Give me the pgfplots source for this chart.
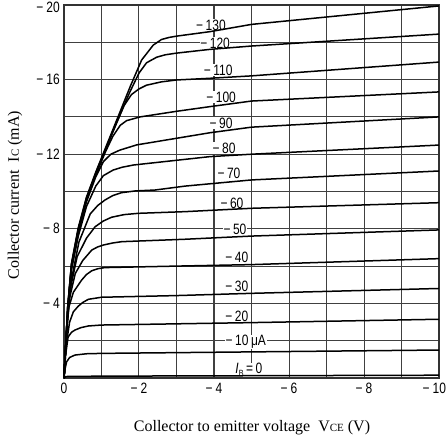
\documentclass[border=0pt]{standalone}
\usepackage{fontspec}
\setmainfont{Liberation Serif}
\newfontfamily\tfont[FakeStretch=0.8]{Liberation Sans}
\usepackage{pgfplots}
\pgfplotsset{compat=1.18}
\newcommand{\tk}{\tfont\fontsize{15}{15}\selectfont}
\newcommand{\lb}[1]{{\tk −\hspace{3pt}#1}}
\begin{document}
\begin{tikzpicture}
\useasboundingbox (0,0) rectangle (446pt,441pt);
\begin{axis}[
  at={(64pt,63pt)}, anchor=south west,
  width=375pt, height=373pt, scale only axis,
  xmin=-10, xmax=0, ymin=-20, ymax=0,
  x dir=reverse, y dir=reverse,
  xtick={0,-2,-4,-6,-8,-10},
  xticklabels={{\tk 0},\lb{2},\lb{4},\lb{6},\lb{8},{\makebox[14pt][r]{\lb{10}}}},
  minor xtick={-1,-3,-5,-7,-9},
  ytick={-4,-8,-12,-16,-20},
  yticklabels={\lb{4},\lb{8},\lb{12},\lb{16},{\lb{20}\rule{0pt}{15pt}}},
  minor ytick={-2,-6,-10,-14,-18},
  grid=both,
  major tick length=0pt, minor tick length=0pt,
  major grid style={black!75, line width=1pt},
  minor grid style={black!75, line width=1pt},
  axis line style={black!80, line width=1.2pt},
  xticklabel style={inner sep=0pt, yshift=-5pt},
  yticklabel style={inner sep=0pt, xshift=-4pt},
  clip=false,
]
% curve labels (drawn before curves)
\tikzset{cl/.style={fill=white, inner sep=0.6pt, font=\tk}}
\node[cl] at (axis cs:-3.92,-18.93) {−\hspace{2.5pt}130};
\node[cl] at (axis cs:-4.03,-17.96) {−\hspace{2.5pt}120};
\node[cl] at (axis cs:-4.11,-16.51) {−\hspace{2.5pt}110};
\node[cl] at (axis cs:-4.19,-15.07) {−\hspace{2.5pt}100};
\node[cl] at (axis cs:-4.19,-13.67) {−\hspace{2.5pt}90};
\node[cl] at (axis cs:-4.27,-12.33) {−\hspace{2.5pt}80};
\node[cl] at (axis cs:-4.40,-10.99) {−\hspace{2.5pt}70};
\node[cl] at (axis cs:-4.48,-9.38) {−\hspace{2.5pt}60};
\node[cl] at (axis cs:-4.56,-7.99) {−\hspace{2.5pt}50};
\node[cl] at (axis cs:-4.61,-6.49) {−\hspace{2.5pt}40};
\node[cl] at (axis cs:-4.61,-4.93) {−\hspace{2.5pt}30};
\node[cl] at (axis cs:-4.61,-3.32) {−\hspace{2.5pt}20};
\node[cl] at (axis cs:-4.85,-1.93) {−\hspace{2.5pt}10\,μA};
\node[cl] at (axis cs:-4.93,-0.43) {\textit{I}\raisebox{-0.35ex}{\fontsize{9}{9}\selectfont B}\,=\,0};
\pgfplotsset{cv/.style={black, solid, line width=1.5pt, mark=none, line join=round}}
% IB = 0
\addplot[cv] coordinates {(0,0) (-0.05,-0.08) (-1,-0.1) (-10,-0.15)};
% IB = 10
\addplot[cv] coordinates {(0,0) (-0.03,-0.5) (-0.07,-0.87) (-0.15,-1.1) (-0.29,-1.23) (-0.6,-1.3) (-1,-1.32) (-5,-1.4) (-10,-1.5)};
% IB = 20
\addplot[cv] coordinates {(0,0) (-0.04,-1.2) (-0.11,-2.2) (-0.2,-2.45) (-0.29,-2.57) (-0.45,-2.7) (-0.65,-2.79) (-1,-2.84) (-5,-2.97) (-10,-3.15)};
% IB = 30
\addplot[cv] coordinates {(0,0) (-0.06,-1.8) (-0.15,-3.0) (-0.25,-3.55) (-0.38,-3.85) (-0.5,-4.05) (-0.65,-4.22) (-1,-4.33) (-3,-4.42) (-5,-4.54) (-10,-4.8)};
% IB = 40
\addplot[cv] coordinates {(0,0) (-0.06,-2.2) (-0.13,-3.8) (-0.25,-4.6) (-0.47,-5.25) (-0.6,-5.55) (-0.74,-5.75) (-0.9,-5.86) (-1.09,-5.92) (-3,-6.0) (-5,-6.08) (-10,-6.4)};
% IB = 50
\addplot[cv] coordinates {(0,0) (-0.07,-2.6) (-0.15,-4.3) (-0.3,-5.6) (-0.5,-6.3) (-0.74,-6.86) (-0.9,-7.03) (-1.05,-7.13) (-1.3,-7.24) (-1.54,-7.31) (-3.23,-7.44) (-5,-7.61) (-10,-7.94)};
% IB = 60
\addplot[cv] coordinates {(0,0) (-0.08,-3.0) (-0.17,-4.8) (-0.35,-6.5) (-0.6,-7.5) (-0.83,-8.11) (-1.05,-8.42) (-1.27,-8.62) (-1.6,-8.76) (-1.98,-8.83) (-3.23,-8.92) (-5,-9.1) (-10,-9.4)};
% IB = 70
\addplot[cv] coordinates {(0,0) (-0.09,-3.2) (-0.2,-5.3) (-0.4,-7.3) (-0.7,-8.8) (-0.9,-9.25) (-1.09,-9.54) (-1.3,-9.78) (-1.54,-9.94) (-1.9,-10.03) (-2.43,-10.08) (-3.23,-10.29) (-5,-10.62) (-10,-11.1)};
% IB = 80
\addplot[cv] coordinates {(0,0) (-0.1,-3.6) (-0.2,-5.8) (-0.38,-7.6) (-0.6,-9.2) (-0.85,-10.3) (-1.05,-10.85) (-1.31,-11.15) (-1.55,-11.3) (-1.85,-11.42) (-3.89,-11.87) (-5,-12.0) (-10,-12.49)};
% IB = 90
\addplot[cv] coordinates {(0,0) (-0.1,-3.7) (-0.2,-5.9) (-0.38,-7.8) (-0.6,-9.45) (-0.85,-10.8) (-1.05,-11.6) (-1.25,-12.0) (-1.49,-12.22) (-1.94,-12.5) (-3.89,-13.15) (-5,-13.45) (-10,-14.0)};
% IB = 100
\addplot[cv] coordinates {(0,0) (-0.1,-3.75) (-0.2,-6.0) (-0.38,-7.9) (-0.6,-9.55) (-0.85,-10.9) (-1.1,-12.1) (-1.3,-12.95) (-1.5,-13.55) (-1.67,-13.8) (-2.03,-14.0) (-3,-14.3) (-3.89,-14.55) (-5,-14.85) (-10,-15.34)};
% IB = 110
\addplot[cv] coordinates {(0,0) (-0.1,-3.8) (-0.2,-6.05) (-0.38,-7.95) (-0.6,-9.6) (-0.85,-10.95) (-1.1,-12.2) (-1.4,-13.65) (-1.6,-14.6) (-1.8,-15.2) (-2.0,-15.5) (-2.2,-15.7) (-2.6,-15.88) (-3,-15.98) (-3.89,-16.07) (-5,-16.2) (-10,-16.94)};
% IB = 120
\addplot[cv] coordinates {(0,0) (-0.1,-3.82) (-0.2,-6.1) (-0.38,-8.0) (-0.6,-9.65) (-0.85,-11.0) (-1.1,-12.25) (-1.4,-13.7) (-1.76,-15.35) (-2.0,-16.35) (-2.2,-16.9) (-2.47,-17.2) (-2.7,-17.33) (-3,-17.42) (-3.89,-17.62) (-5,-17.8) (-10,-18.44)};
% IB = 130
\addplot[cv] coordinates {(0,0) (-0.1,-3.85) (-0.2,-6.15) (-0.38,-8.05) (-0.6,-9.7) (-0.85,-11.05) (-1.1,-12.3) (-1.4,-13.8) (-1.76,-15.6) (-2.07,-17.05) (-2.38,-17.85) (-2.6,-18.15) (-2.8,-18.26) (-3,-18.33) (-3.89,-18.57) (-5,-18.96) (-10,-19.95)};
\end{axis}
\node[font=\fontsize{16}{16}\selectfont, anchor=center] at (252pt,13pt) {Collector to emitter voltage\ \ V{\fontsize{11}{11}\selectfont CE} (V)};
\node[font=\fontsize{16}{16}\selectfont, rotate=90, anchor=center] at (15pt,246pt) {Collector current\ \ I{\fontsize{11}{11}\selectfont C} (mA)};
\end{tikzpicture}
\end{document}
